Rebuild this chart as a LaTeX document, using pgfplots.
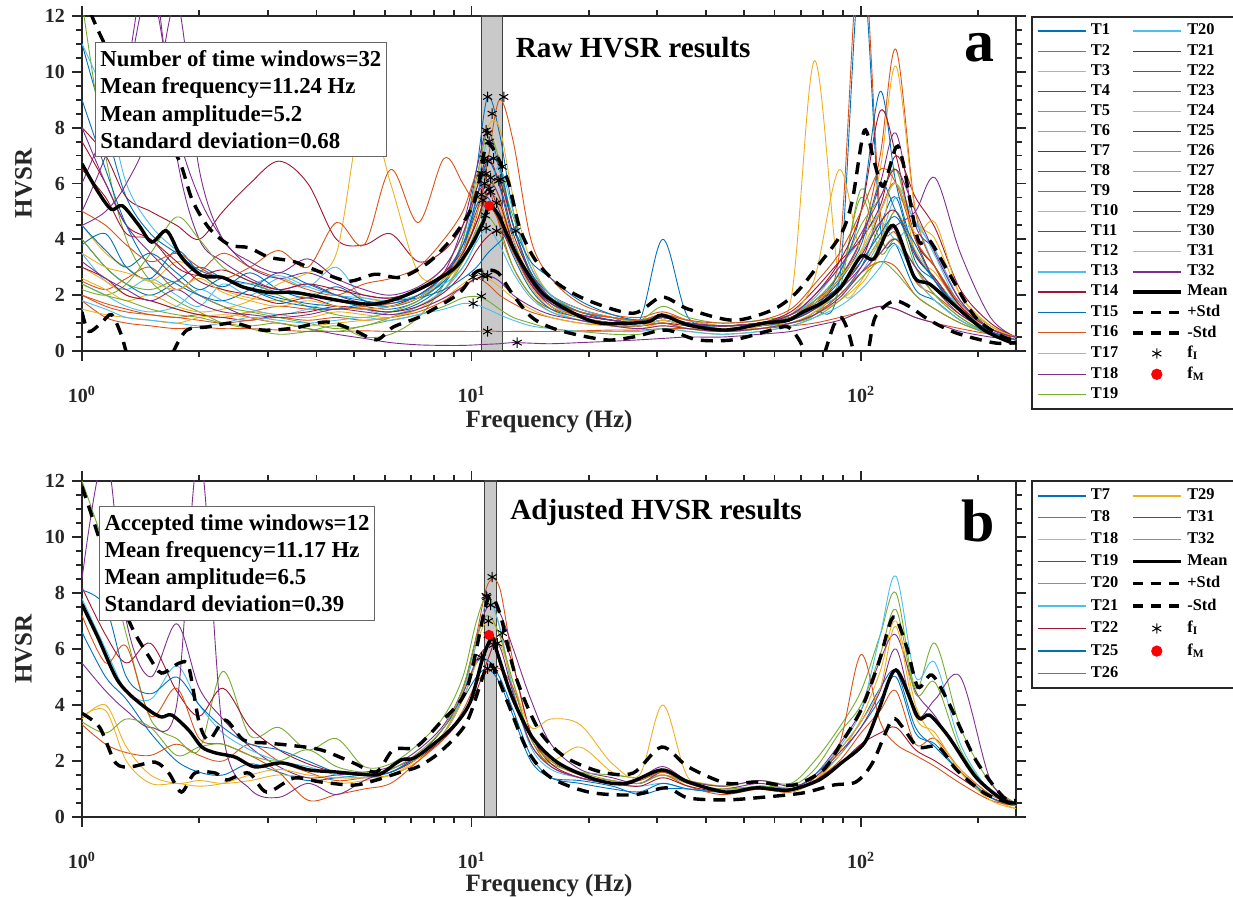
\documentclass[border=0pt]{standalone}
\usepackage{fontspec}
\setmainfont{Liberation Serif}
\usepackage{pgfplots}
\pgfplotsset{compat=1.18}
\definecolor{c1}{RGB}{0,114,189}
\definecolor{c2}{RGB}{217,83,25}
\definecolor{c3}{RGB}{237,177,32}
\definecolor{c4}{RGB}{126,47,142}
\definecolor{c5}{RGB}{119,172,48}
\definecolor{c6}{RGB}{77,190,238}
\definecolor{c7}{RGB}{162,20,47}
\definecolor{axc}{RGB}{38,38,38}
\tikzset{
  hvtrace/.style={smooth, tension=0.55, line width=0.45pt},
  hvmean/.style={smooth, tension=0.5, black, line width=1.7pt},
  hvstd/.style={smooth, tension=0.5, black, line width=1.7pt, dash pattern=on 6pt off 4pt},
}
\begin{document}
\begin{tikzpicture}
\useasboundingbox (0,0) rectangle (616.5pt,448.5pt);
%================ PANEL A =================
\begin{axis}[at={(41pt,273pt)}, anchor=south west,
    scale only axis, width=467pt, height=167.5pt,
    xmode=log, xmin=1, xmax=250, ymin=0, ymax=12,
    xtick={1,10,100},
    xticklabels={10\textsuperscript{0},10\textsuperscript{1},10\textsuperscript{2}},
    minor xtick={2,3,4,5,6,7,8,9,20,30,40,50,60,70,80,90,200},
    ytick={0,2,4,6,8,10,12}, yticklabels={0,2,4,6,8,10,12},
    minor y tick num=3,
    tick align=outside, major tick length=5pt, minor tick length=2.8pt,
    tick style={line width=0.9pt, axc},
    axis line style={line width=1pt, axc},
    tick label style={font=\fontsize{10}{12}\selectfont\bfseries, text=axc},
    xticklabel style={yshift=-9pt},
    label style={font=\fontsize{12.5}{15}\selectfont\bfseries, text=axc},
    xlabel={Frequency (Hz)}, ylabel={HVSR},
    ylabel style={at={(axis description cs:-0.0626,0.5)}, anchor=center},
    xlabel style={at={(axis description cs:0.5,-0.212)}, anchor=center},
    legend columns=2, legend cell align=left,
    legend image code/.code={\draw[mark repeat=2,mark phase=2,#1] plot coordinates {(0pt,0pt)(12pt,0pt)(24pt,0pt)};},
    legend style={at={(axis description cs:1.016,1)}, anchor=north west, draw=axc, line width=1pt,
      font=\fontsize{8.2}{9.5}\selectfont\bfseries, text=black,
      inner xsep=2.5pt, inner ysep=2pt, nodes={inner ysep=1.55pt, inner xsep=2.4pt},
      /tikz/every even column/.append style={column sep=4pt}},
  ]
\addplot[forget plot, fill=black!21, draw=black!75, line width=0.6pt] coordinates {(10.6,12)(12.0,12)} \closedcycle;
\addplot[forget plot,hvtrace,c1] coordinates {(1,11)(1.15,8)(1.3,5.5)(1.5,4.2)(1.75,3.5)(2,2.9)(2.3,2.6)(2.7,2.4)(3.2,2.1)(3.8,2)(4.5,1.8)(5.3,1.6)(6.2,1.5)(7.3,1.8)(8.5,2.6)(9.5,4)(10.3,6.5)(11,9.1)(11.8,7.8)(12.8,5)(14.2,3)(16,2)(19,1.4)(23,1.2)(27,1.1)(31,4)(36,1.2)(44,0.9)(55,1)(66,1.2)(76,1.5)(88,2)(100,3)(112,4.5)(123,5.5)(138,3.2)(155,2.5)(180,1.4)(215,0.7)(250,0.4)};
\addplot[forget plot,hvtrace,c2] coordinates {(1,2)(1.15,1.6)(1.3,1.4)(1.5,1.3)(1.75,1.2)(2,1.3)(2.3,1.2)(2.7,1.4)(3.2,1.6)(3.8,1.5)(4.5,1.5)(5.3,1.6)(6.2,1.7)(7.3,2)(8.5,2.7)(9.5,3.5)(10.3,4.8)(11,6.8)(11.8,9)(12.8,7.5)(14.2,4)(16,2.6)(19,1.7)(23,1.3)(27,1.2)(31,1.4)(36,1.1)(44,0.9)(55,1)(66,1.3)(76,1.8)(88,3.5)(100,15)(112,5)(123,4.2)(138,2.5)(155,2)(180,1.3)(215,0.7)(250,0.5)};
\addplot[forget plot,hvtrace,c3] coordinates {(1,4.5)(1.15,3.5)(1.3,3)(1.5,2.5)(1.75,3.2)(2,2.8)(2.3,2.2)(2.7,1.9)(3.2,1.8)(3.8,2)(4.5,2.2)(5.3,1.9)(6.2,1.8)(7.3,2.2)(8.5,3)(9.5,4.2)(10.3,6)(11,8)(11.8,8)(12.8,5.5)(14.2,3.2)(16,2)(19,1.5)(23,1.2)(27,1)(31,1.3)(36,1)(44,0.8)(55,0.9)(66,1)(76,1.3)(88,1.8)(100,2.5)(112,4)(123,6.5)(138,3.5)(155,2.8)(180,1.6)(215,0.8)(250,0.5)};
\addplot[forget plot,hvtrace,c4] coordinates {(1,6)(1.15,8)(1.3,10)(1.5,14)(1.75,7)(2,4)(2.3,3.2)(2.7,2.6)(3.2,2.2)(3.8,2.4)(4.5,2)(5.3,1.7)(6.2,1.6)(7.3,1.9)(8.5,2.8)(9.5,4.5)(10.3,6.5)(11,7.9)(11.8,6.5)(12.8,4.5)(14.2,2.8)(16,1.8)(19,1.3)(23,1.1)(27,1)(31,1.2)(36,1)(44,0.9)(55,1)(66,1.2)(76,1.6)(88,2.2)(100,3)(112,4)(123,4.5)(138,5)(155,6.2)(180,3.5)(215,1.2)(250,0.5)};
\addplot[forget plot,hvtrace,c5] coordinates {(1,12.5)(1.15,7)(1.3,4)(1.5,2.5)(1.75,1.8)(2,1.4)(2.3,1)(2.7,0.8)(3.2,0.6)(3.8,0.7)(4.5,0.9)(5.3,0.5)(6.2,0.6)(7.3,1.2)(8.5,2.4)(9.5,4)(10.3,6.2)(11,7.8)(11.8,6.8)(12.8,4.5)(14.2,2.7)(16,1.7)(19,1.2)(23,1)(27,0.9)(31,1.2)(36,0.9)(44,0.8)(55,0.9)(66,1)(76,1.3)(88,2.5)(100,5.5)(112,3.5)(123,4)(138,3)(155,2)(180,1.2)(215,0.6)(250,0.4)};
\addplot[forget plot,hvtrace,c6] coordinates {(1,3.5)(1.15,2.5)(1.3,2.2)(1.5,2.6)(1.75,2)(2,1.6)(2.3,2.4)(2.7,2)(3.2,2.6)(3.8,2.3)(4.5,3)(5.3,1.8)(6.2,1.6)(7.3,2)(8.5,2.6)(9.5,3.8)(10.3,5.8)(11,7.5)(11.8,6.5)(12.8,4)(14.2,2.4)(16,1.7)(19,1.2)(23,1)(27,0.9)(31,1.1)(36,0.9)(44,0.8)(55,0.9)(66,1.1)(76,1.5)(88,2)(100,2.8)(112,4)(123,5.5)(138,4.6)(155,3)(180,1.5)(215,0.7)(250,0.4)};
\addplot[forget plot,hvtrace,c7] coordinates {(1,8)(1.15,7)(1.3,5.5)(1.5,5)(1.75,4.5)(2,4)(2.3,5)(2.7,6)(3.2,6.8)(3.8,6)(4.5,4)(5.3,3.8)(6.2,4.2)(7.3,3.2)(8.5,3.6)(9.5,4.5)(10.3,5.8)(11,6.9)(11.8,6)(12.8,4.2)(14.2,2.8)(16,2)(19,1.5)(23,1.2)(27,1.1)(31,1.3)(36,1.1)(44,0.9)(55,1)(66,1.2)(76,1.7)(88,2.3)(100,3.2)(112,5)(123,6)(138,4)(155,2.5)(180,1.4)(215,0.7)(250,0.4)};
\addplot[forget plot,hvtrace,c1] coordinates {(1,4)(1.15,3)(1.3,2.4)(1.5,2)(1.75,2.5)(2,3)(2.3,2.6)(2.7,2.2)(3.2,1.9)(3.8,1.7)(4.5,1.6)(5.3,1.5)(6.2,1.4)(7.3,1.7)(8.5,2.4)(9.5,3.6)(10.3,5.5)(11,6.8)(11.8,5.9)(12.8,4)(14.2,2.5)(16,1.6)(19,1.2)(23,1)(27,0.9)(31,1.1)(36,0.9)(44,0.7)(55,0.8)(66,1)(76,1.4)(88,2.5)(100,14)(112,4.5)(123,3.8)(138,2.2)(155,1.8)(180,1.1)(215,0.6)(250,0.4)};
\addplot[forget plot,hvtrace,c2] coordinates {(1,2.5)(1.15,2.2)(1.3,2.6)(1.5,3)(1.75,2.2)(2,2.8)(2.3,3.5)(2.7,3)(3.2,2.6)(3.8,2.2)(4.5,2)(5.3,2.4)(6.2,2.6)(7.3,3)(8.5,4)(9.5,5)(10.3,6.3)(11,6)(11.8,4.5)(12.8,3)(14.2,2)(16,1.5)(19,1.3)(23,1.1)(27,1)(31,1.2)(36,1)(44,0.9)(55,1)(66,1.3)(76,1.8)(88,2.6)(100,4)(112,7)(123,10.8)(138,5)(155,3)(180,1.6)(215,0.8)(250,0.5)};
\addplot[forget plot,hvtrace,c3] coordinates {(1,3)(1.15,2.5)(1.3,2)(1.5,1.8)(1.75,1.5)(2,1.3)(2.3,1.2)(2.7,1.4)(3.2,1.3)(3.8,1.2)(4.5,1.4)(5.3,1.3)(6.2,1.2)(7.3,1.5)(8.5,2.2)(9.5,3.4)(10.3,5.2)(11,6.3)(11.8,5.4)(12.8,3.6)(14.2,2.3)(16,1.5)(19,1.1)(23,0.9)(27,0.8)(31,1)(36,0.8)(44,0.7)(55,0.9)(66,1.8)(76,10.4)(88,2.5)(100,2.4)(112,3.5)(123,4)(138,2.6)(155,1.8)(180,1.1)(215,0.6)(250,0.4)};
\addplot[forget plot,hvtrace,c4] coordinates {(1,5)(1.15,7)(1.3,9.5)(1.5,13)(1.75,8)(2,5.5)(2.3,4)(2.7,3)(3.2,2.6)(3.8,2.8)(4.5,2.4)(5.3,2)(6.2,1.9)(7.3,2.2)(8.5,2.8)(9.5,3.8)(10.3,5)(11,6.1)(11.8,5.5)(12.8,3.8)(14.2,2.5)(16,1.7)(19,1.3)(23,1.1)(27,1)(31,1.2)(36,1)(44,0.9)(55,1)(66,1.2)(76,1.7)(88,2.6)(100,4)(112,6)(123,7.8)(138,4.5)(155,3.6)(180,1.8)(215,0.8)(250,0.5)};
\addplot[forget plot,hvtrace,c5] coordinates {(1,2.2)(1.15,2)(1.3,2.4)(1.5,3.5)(1.75,4.8)(2,4)(2.3,3)(2.7,2.5)(3.2,2)(3.8,1.6)(4.5,1.3)(5.3,1.2)(6.2,1.4)(7.3,1.8)(8.5,2.5)(9.5,3.3)(10.3,4.4)(11,5.6)(11.8,6.1)(12.8,4.8)(14.2,3)(16,2)(19,1.4)(23,1.2)(27,1.1)(31,1.6)(36,1.2)(44,1)(55,1.1)(66,1.3)(76,1.8)(88,2.8)(100,4.5)(112,5.5)(123,6.5)(138,4)(155,3)(180,1.7)(215,0.9)(250,0.5)};
\addplot[forget plot,hvtrace,c6] coordinates {(1,11)(1.15,9)(1.3,6)(1.5,4.5)(1.75,3.6)(2,3)(2.3,2.6)(2.7,2.4)(3.2,2.7)(3.8,2.3)(4.5,2)(5.3,1.9)(6.2,1.8)(7.3,2)(8.5,2.4)(9.5,3)(10.3,4)(11,5.6)(11.8,6.6)(12.8,5)(14.2,3)(16,2)(19,1.5)(23,1.2)(27,1.1)(31,1.3)(36,1.1)(44,0.9)(55,1)(66,1.3)(76,1.9)(88,3)(100,4)(112,5)(123,6)(138,4.6)(155,3.6)(180,1.8)(215,0.8)(250,0.5)};
\addplot[forget plot,hvtrace,c7] coordinates {(1,7.5)(1.15,6)(1.3,4.5)(1.5,4)(1.75,3.2)(2,2.5)(2.3,2.2)(2.7,2)(3.2,1.7)(3.8,1.9)(4.5,1.6)(5.3,1.5)(6.2,1.6)(7.3,2)(8.5,2.7)(9.5,3.5)(10.3,4.6)(11,5.8)(11.8,6.1)(12.8,4.5)(14.2,2.8)(16,1.9)(19,1.4)(23,1.2)(27,1.1)(31,1.2)(36,1)(44,0.9)(55,1)(66,1.4)(76,2.2)(88,3.2)(100,4)(112,5.2)(123,7)(138,5.5)(155,4.4)(180,2.2)(215,1)(250,0.5)};
\addplot[forget plot,hvtrace,c1] coordinates {(1,3.8)(1.15,4.2)(1.3,3)(1.5,2.6)(1.75,3.6)(2,2.8)(2.3,2.3)(2.7,2.8)(3.2,2.2)(3.8,1.9)(4.5,2.3)(5.3,1.8)(6.2,1.6)(7.3,1.9)(8.5,2.5)(9.5,3.6)(10.3,5.2)(11,5.5)(11.8,4.6)(12.8,3.4)(14.2,2.2)(16,1.5)(19,1.2)(23,1)(27,0.9)(31,1.1)(36,0.9)(44,0.8)(55,0.9)(66,1.2)(76,1.7)(88,2.8)(100,5)(112,9.3)(123,6)(138,3.5)(155,2.6)(180,1.5)(215,0.7)(250,0.4)};
\addplot[forget plot,hvtrace,c2] coordinates {(1,1.8)(1.15,1.2)(1.3,1)(1.5,0.9)(1.75,0.8)(2,0.85)(2.3,0.8)(2.7,0.8)(3.2,0.75)(3.8,0.7)(4.5,0.7)(5.3,0.72)(6.2,0.7)(7.3,0.7)(8.5,0.7)(9.5,0.7)(10.3,0.7)(11,0.72)(11.8,0.7)(12.8,0.7)(14.2,0.7)(16,0.7)(19,0.72)(23,0.75)(27,0.75)(31,0.8)(36,0.8)(44,0.75)(55,0.8)(66,0.9)(76,1)(88,1.2)(100,1.4)(112,1.6)(123,1.5)(138,1.2)(155,1)(180,0.8)(215,0.6)(250,0.5)};
\addplot[forget plot,hvtrace,c3] coordinates {(1,2.6)(1.15,2.2)(1.3,1.8)(1.5,2)(1.75,1.6)(2,1.4)(2.3,1.5)(2.7,1.8)(3.2,2.4)(3.8,2.8)(4.5,3.5)(5.3,8.8)(6.2,6)(7.3,2.8)(8.5,2.6)(9.5,3.2)(10.3,4.2)(11,5)(11.8,5.3)(12.8,4)(14.2,2.6)(16,1.8)(19,1.4)(23,1.2)(27,1.1)(31,1.3)(36,1.1)(44,0.9)(55,1)(66,1.3)(76,2.6)(88,6.5)(100,3.5)(112,4)(123,5)(138,3.6)(155,2.6)(180,1.5)(215,0.8)(250,0.5)};
\addplot[forget plot,hvtrace,c4] coordinates {(1,8)(1.15,6)(1.3,4.5)(1.5,3.5)(1.75,2.6)(2,2)(2.3,1.6)(2.7,1.2)(3.2,1)(3.8,0.8)(4.5,0.6)(5.3,0.45)(6.2,0.3)(7.3,0.22)(8.5,0.2)(9.5,0.2)(10.3,0.22)(11,0.24)(11.8,0.26)(12.8,0.3)(14.2,0.28)(16,0.26)(19,0.3)(23,0.35)(27,0.4)(31,0.45)(36,0.5)(44,0.5)(55,0.6)(66,0.7)(76,0.9)(88,1.1)(100,1.4)(112,1.6)(123,1.5)(138,1.2)(155,1)(180,0.7)(215,0.5)(250,0.4)};
\addplot[forget plot,hvtrace,c5] coordinates {(1,4)(1.15,3)(1.3,2.4)(1.5,2.2)(1.75,2.5)(2,2)(2.3,1.6)(2.7,1.4)(3.2,1.2)(3.8,1)(4.5,0.8)(5.3,0.9)(6.2,1.2)(7.3,1.6)(8.5,2.2)(9.5,3.2)(10.3,4.3)(11,4.8)(11.8,4.2)(12.8,3)(14.2,2)(16,1.4)(19,1.1)(23,0.9)(27,0.9)(31,1)(36,0.8)(44,0.7)(55,0.8)(66,1)(76,1.4)(88,2.2)(100,5.8)(112,4)(123,5)(138,3)(155,2)(180,1.2)(215,0.6)(250,0.4)};
\addplot[forget plot,hvtrace,c6] coordinates {(1,2.4)(1.15,2)(1.3,1.6)(1.5,1.4)(1.75,1.6)(2,2.2)(2.3,1.8)(2.7,1.5)(3.2,1.3)(3.8,1.5)(4.5,1.8)(5.3,1.5)(6.2,1.3)(7.3,1.6)(8.5,2.2)(9.5,3)(10.3,3.9)(11,4.4)(11.8,3.8)(12.8,2.8)(14.2,1.9)(16,1.4)(19,1.1)(23,0.9)(27,0.9)(31,1.1)(36,0.9)(44,0.8)(55,0.9)(66,1.1)(76,1.5)(88,2.3)(100,3.5)(112,4.6)(123,4)(138,4.6)(155,3.4)(180,1.6)(215,0.7)(250,0.4)};
\addplot[forget plot,hvtrace,c7] coordinates {(1,3)(1.15,2.6)(1.3,2)(1.5,1.8)(1.75,1.5)(2,1.3)(2.3,1.2)(2.7,1.1)(3.2,1.3)(3.8,1.4)(4.5,1.6)(5.3,1.5)(6.2,1.4)(7.3,1.6)(8.5,2.1)(9.5,2.8)(10.3,3.6)(11,4.1)(11.8,4.3)(12.8,3.6)(14.2,2.4)(16,1.6)(19,1.2)(23,1)(27,0.9)(31,1)(36,0.9)(44,0.8)(55,0.9)(66,1.1)(76,1.5)(88,2.2)(100,3.4)(112,4.6)(123,5)(138,3.4)(155,2.6)(180,1.4)(215,0.7)(250,0.4)};
\addplot[forget plot,hvtrace,c1] coordinates {(1,4.5)(1.15,3.6)(1.3,3)(1.5,3.5)(1.75,2.8)(2,2.2)(2.3,2.6)(2.7,2.2)(3.2,1.8)(3.8,1.6)(4.5,1.5)(5.3,1.7)(6.2,1.8)(7.3,1.9)(8.5,2.2)(9.5,2.6)(10.3,3)(11,3.5)(11.8,3.9)(12.8,4.3)(14.2,3.2)(16,2.6)(19,1.8)(23,1.3)(27,1.1)(31,1.2)(36,1)(44,0.9)(55,1)(66,1.2)(76,1.6)(88,2.3)(100,3.2)(112,4.2)(123,4.8)(138,3.5)(155,2.5)(180,1.5)(215,0.7)(250,0.4)};
\addplot[forget plot,hvtrace,c2] coordinates {(1,2)(1.15,1.7)(1.3,1.5)(1.5,1.3)(1.75,1.2)(2,1.1)(2.3,1)(2.7,1.1)(3.2,1.2)(3.8,1.1)(4.5,1.2)(5.3,1.1)(6.2,1.2)(7.3,1.4)(8.5,1.8)(9.5,2.3)(10.3,2.6)(11,2.4)(11.8,2)(12.8,1.7)(14.2,1.4)(16,1.2)(19,1)(23,0.9)(27,0.9)(31,1)(36,0.8)(44,0.7)(55,0.8)(66,1)(76,1.3)(88,2)(100,2.8)(112,3.2)(123,3)(138,2)(155,1.5)(180,1)(215,0.6)(250,0.4)};
\addplot[forget plot,hvtrace,c3] coordinates {(1,1.5)(1.15,1.3)(1.3,1.2)(1.5,1.1)(1.75,1)(2,1.2)(2.3,1.3)(2.7,1.2)(3.2,1)(3.8,0.9)(4.5,1)(5.3,1.1)(6.2,1.2)(7.3,1.5)(8.5,1.9)(9.5,2.4)(10.3,2.7)(11,2.6)(11.8,2.3)(12.8,1.9)(14.2,1.5)(16,1.2)(19,1)(23,0.9)(27,0.8)(31,0.9)(36,0.8)(44,0.7)(55,0.8)(66,1)(76,1.4)(88,2.2)(100,3.5)(112,6.5)(123,10.2)(138,5)(155,4)(180,2)(215,0.9)(250,0.5)};
\addplot[forget plot,hvtrace,c4] coordinates {(1,3.2)(1.15,2.6)(1.3,2.2)(1.5,1.8)(1.75,2.2)(2,1.7)(2.3,1.4)(2.7,1.3)(3.2,1.2)(3.8,1.3)(4.5,1.5)(5.3,1.4)(6.2,1.3)(7.3,1.5)(8.5,1.9)(9.5,2.3)(10.3,2.6)(11,2.7)(11.8,2.5)(12.8,2)(14.2,1.6)(16,1.3)(19,1.1)(23,0.9)(27,0.8)(31,0.9)(36,0.8)(44,0.7)(55,0.8)(66,1)(76,1.3)(88,1.9)(100,2.8)(112,3.5)(123,4)(138,3)(155,2.2)(180,1.3)(215,0.7)(250,0.4)};
\addplot[forget plot,hvtrace,c5] coordinates {(1,2.4)(1.15,2)(1.3,1.8)(1.5,1.5)(1.75,1.3)(2,1.2)(2.3,1)(2.7,0.9)(3.2,1)(3.8,0.8)(4.5,0.7)(5.3,0.9)(6.2,1.1)(7.3,1.3)(8.5,1.6)(9.5,1.9)(10.3,1.95)(11,1.8)(11.8,1.5)(12.8,1.2)(14.2,1)(16,0.8)(19,0.7)(23,0.6)(27,0.6)(31,0.8)(36,0.7)(44,0.6)(55,0.7)(66,0.9)(76,1.2)(88,1.8)(100,2.6)(112,3.2)(123,2.8)(138,2)(155,1.5)(180,1)(215,0.6)(250,0.4)};
\addplot[forget plot,hvtrace,c6] coordinates {(1,1.8)(1.15,1.5)(1.3,1.2)(1.5,1.1)(1.75,1)(2,0.9)(2.3,1)(2.7,1.2)(3.2,1.1)(3.8,1)(4.5,1.1)(5.3,1.2)(6.2,1.1)(7.3,1.3)(8.5,1.5)(9.5,1.7)(10.3,1.65)(11,1.5)(11.8,1.3)(12.8,1.1)(14.2,0.9)(16,0.8)(19,0.7)(23,0.7)(27,0.7)(31,0.8)(36,0.7)(44,0.6)(55,0.7)(66,0.9)(76,1.2)(88,1.6)(100,2.2)(112,3)(123,3.8)(138,2.6)(155,1.8)(180,1.1)(215,0.6)(250,0.4)};
\addplot[forget plot,hvtrace,c7] coordinates {(1,6.5)(1.15,5.5)(1.3,4.2)(1.5,4)(1.75,3)(2,2.7)(2.3,2.9)(2.7,2.5)(3.2,2.2)(3.8,2.4)(4.5,2.2)(5.3,2)(6.2,1.9)(7.3,2.2)(8.5,2.8)(9.5,3.6)(10.3,4.6)(11,5.6)(11.8,5.3)(12.8,3.8)(14.2,2.5)(16,1.8)(19,1.3)(23,1.1)(27,1)(31,1.2)(36,1)(44,0.9)(55,1)(66,1.3)(76,2)(88,3.2)(100,5)(112,8.6)(123,7)(138,4)(155,3)(180,1.6)(215,0.8)(250,0.5)};
\addplot[forget plot,hvtrace,c1] coordinates {(1,9)(1.15,6.5)(1.3,4.5)(1.5,3)(1.75,2.4)(2,2)(2.3,1.8)(2.7,2.2)(3.2,2.8)(3.8,2.4)(4.5,2)(5.3,1.8)(6.2,1.7)(7.3,2)(8.5,2.7)(9.5,3.8)(10.3,5.4)(11,6.8)(11.8,6.6)(12.8,4.5)(14.2,2.8)(16,1.9)(19,1.4)(23,1.1)(27,1)(31,1.2)(36,1)(44,0.8)(55,0.9)(66,1.1)(76,1.6)(88,2.5)(100,3.8)(112,6)(123,5)(138,3.8)(155,2.5)(180,1.4)(215,0.7)(250,0.4)};
\addplot[forget plot,hvtrace,c2] coordinates {(1,5)(1.15,4.5)(1.3,3.8)(1.5,3.2)(1.75,3.5)(2,3)(2.3,2.6)(2.7,3)(3.2,3.6)(3.8,3)(4.5,4.6)(5.3,3.8)(6.2,6.5)(7.3,4.6)(8.5,6.9)(9.5,6)(10.3,5.2)(11,5.3)(11.8,4.6)(12.8,3.5)(14.2,2.4)(16,1.8)(19,1.4)(23,1.2)(27,1.1)(31,1.3)(36,1.1)(44,1)(55,1.1)(66,1.5)(76,2.4)(88,3.5)(100,5)(112,6.5)(123,6)(138,4)(155,3)(180,1.7)(215,0.8)(250,0.5)};
\addplot[forget plot,hvtrace,c3] coordinates {(1,3.5)(1.15,3)(1.3,2.8)(1.5,2.5)(1.75,2.2)(2,2.6)(2.3,2.1)(2.7,1.8)(3.2,1.6)(3.8,1.8)(4.5,1.6)(5.3,1.5)(6.2,1.6)(7.3,1.9)(8.5,2.6)(9.5,3.6)(10.3,4.9)(11,5.8)(11.8,5.2)(12.8,3.6)(14.2,2.3)(16,1.6)(19,1.2)(23,1)(27,0.9)(31,1.1)(36,0.9)(44,0.8)(55,0.9)(66,1.2)(76,1.7)(88,2.6)(100,3.6)(112,5)(123,6)(138,4.2)(155,4.6)(180,2)(215,0.9)(250,0.5)};
\addplot[forget plot,hvtrace,c4] coordinates {(1,4.5)(1.15,5)(1.3,6)(1.5,8)(1.75,12.5)(2,6.5)(2.3,4)(2.7,3.2)(3.2,2.8)(3.8,3.3)(4.5,2.6)(5.3,2.2)(6.2,2)(7.3,2.3)(8.5,3)(9.5,4.2)(10.3,5.6)(11,5.9)(11.8,5)(12.8,3.6)(14.2,2.4)(16,1.7)(19,1.3)(23,1.1)(27,1)(31,1.2)(36,1)(44,0.9)(55,1)(66,1.3)(76,2)(88,3)(100,4.2)(112,5.5)(123,6.5)(138,5)(155,3.5)(180,1.8)(215,0.8)(250,0.5)};
\addplot[forget plot,hvmean] coordinates {(1,6.7)(1.1,5.7)(1.19,5.07)(1.27,5.2)(1.4,4.5)(1.51,3.9)(1.65,4.3)(1.8,3.36)(2.03,2.7)(2.29,2.64)(2.58,2.3)(3.0,2.1)(3.5,2.1)(4.1,1.93)(4.85,1.75)(5.66,1.68)(6.6,1.93)(7.8,2.4)(9.1,3.0)(10.0,3.8)(10.7,4.6)(11.1,5.2)(11.7,4.9)(12.4,4.1)(13.3,3.25)(15.2,2.07)(18.3,1.35)(21.5,1.0)(28.2,1.04)(30.8,1.29)(36,0.93)(45,0.75)(56.5,1.0)(65,1.1)(71,1.4)(80,1.75)(89,2.3)(100,3.4)(108,3.3)(121,4.5)(137,2.65)(150,2.4)(176,1.57)(207,0.75)(240,0.33)(250,0.3)};
\addplot[forget plot,hvstd] coordinates {(1,13.5)(1.06,12)(1.3,9.5)(1.6,7.8)(1.78,6.8)(1.92,5.4)(2.12,4.4)(2.39,3.8)(2.68,3.7)(3.02,3.36)(3.5,3.2)(4.14,2.8)(4.85,2.5)(5.66,2.75)(6.6,2.64)(7.8,3.2)(9.1,4.2)(10.2,5.4)(10.85,7.3)(11.3,7.3)(12.4,6.1)(13.3,4.4)(14.6,3.25)(16.7,2.4)(20,1.8)(26,1.35)(30.8,1.93)(36,1.5)(47,1.1)(59,1.46)(68,2.07)(78,3.1)(89,4.2)(95,5.4)(102,7.9)(108,6.8)(114,5.9)(123,7.3)(128,6.8)(140,4.0)(150,3.96)(168,2.8)(197,1.2)(232,0.5)(250,0.4)};
\addplot[forget plot,hvstd] coordinates {(1,1.4)(1.04,0.7)(1.12,1.0)(1.19,1.3)(1.26,0.6)(1.32,-0.3)(1.45,-1.2)(1.6,-1.2)(1.72,0)(1.86,0.75)(2.1,0.86)(2.45,1.0)(2.9,0.75)(3.5,0.82)(4.25,1.04)(4.98,0.75)(5.7,0.4)(6.3,0.86)(7.25,1.18)(7.9,1.46)(9.3,2.07)(10.2,2.8)(10.85,2.9)(11.7,2.8)(12.7,2.07)(14.3,1.2)(16.7,0.75)(22,0.4)(26,0.5)(31.6,0.75)(38,0.4)(47,0.4)(59,0.75)(65,0.86)(70,0.3)(74,-0.6)(79,-0.4)(85,0.9)(89,1.2)(93,0.64)(98,-0.5)(103,-0.4)(108,1.1)(115,1.6)(123,1.8)(134,1.57)(150,1.1)(176,0.64)(220,0.29)(250,0.3)};
\addplot[forget plot, only marks, mark=asterisk, black, mark size=2.6pt, mark options={line width=0.5pt}] coordinates {(11.0,9.1)(12.1,9.1)(11.3,8.5)(10.9,7.9)(11.0,7.8)(11.1,7.5)(10.8,6.9)(11.0,6.8)(10.6,6.35)(10.9,6.35)(11.2,6.2)(11.75,6.1)(12.0,6.6)(11.9,6.15)(10.6,5.6)(11.0,0.7)(11.6,5.3)(13.1,0.3)(10.85,4.86)(10.9,4.4)(11.6,4.3)(13.0,4.3)(10.1,2.64)(10.7,2.7)(11.0,2.7)(10.6,1.96)(10.1,1.7)(11.2,5.7)(11.4,6.9)(10.7,5.4)(11.1,5.8)(10.8,6.0)};
\addplot[forget plot, only marks, mark=*, red, mark size=2.3pt] coordinates {(11.1,5.2)};
\addlegendimage{c1,line width=0.6pt}\addlegendentry{T1}
\addlegendimage{c6,line width=0.6pt}\addlegendentry{T20}
\addlegendimage{c2,line width=0.6pt}\addlegendentry{T2}
\addlegendimage{c7,line width=0.6pt}\addlegendentry{T21}
\addlegendimage{c3,line width=0.6pt}\addlegendentry{T3}
\addlegendimage{c1,line width=0.6pt}\addlegendentry{T22}
\addlegendimage{c4,line width=0.6pt}\addlegendentry{T4}
\addlegendimage{c2,line width=0.6pt}\addlegendentry{T23}
\addlegendimage{c5,line width=0.6pt}\addlegendentry{T5}
\addlegendimage{c3,line width=0.6pt}\addlegendentry{T24}
\addlegendimage{c6,line width=0.6pt}\addlegendentry{T6}
\addlegendimage{c4,line width=0.6pt}\addlegendentry{T25}
\addlegendimage{c7,line width=0.6pt}\addlegendentry{T7}
\addlegendimage{c5,line width=0.6pt}\addlegendentry{T26}
\addlegendimage{c1,line width=0.6pt}\addlegendentry{T8}
\addlegendimage{c6,line width=0.6pt}\addlegendentry{T27}
\addlegendimage{c2,line width=0.6pt}\addlegendentry{T9}
\addlegendimage{c7,line width=0.6pt}\addlegendentry{T28}
\addlegendimage{c3,line width=0.6pt}\addlegendentry{T10}
\addlegendimage{c1,line width=0.6pt}\addlegendentry{T29}
\addlegendimage{c4,line width=0.6pt}\addlegendentry{T11}
\addlegendimage{c2,line width=0.6pt}\addlegendentry{T30}
\addlegendimage{c5,line width=0.6pt}\addlegendentry{T12}
\addlegendimage{c3,line width=0.6pt}\addlegendentry{T31}
\addlegendimage{c6,line width=0.6pt}\addlegendentry{T13}
\addlegendimage{c4,line width=0.6pt}\addlegendentry{T32}
\addlegendimage{c7,line width=0.6pt}\addlegendentry{T14}
\addlegendimage{black,line width=1.7pt}\addlegendentry{Mean}
\addlegendimage{c1,line width=0.6pt}\addlegendentry{T15}
\addlegendimage{black,line width=1.7pt,dash pattern=on 5pt off 4pt}\addlegendentry{+Std}
\addlegendimage{c2,line width=0.6pt}\addlegendentry{T16}
\addlegendimage{black,line width=1.7pt,dash pattern=on 5pt off 4pt}\addlegendentry{-Std}
\addlegendimage{c3,line width=0.6pt}\addlegendentry{T17}
\addlegendimage{only marks,mark=asterisk,black,mark size=2.6pt,mark options={line width=0.5pt}}\addlegendentry{f\textsubscript{I}}
\addlegendimage{c4,line width=0.6pt}\addlegendentry{T18}
\addlegendimage{only marks,mark=*,red,mark size=2.3pt}\addlegendentry{f\textsubscript{M}}
\addlegendimage{c5,line width=0.6pt}\addlegendentry{T19}
\node[draw=black!60, line width=0.5pt, fill=white, anchor=north west, align=left,
  font=\fontsize{11.4}{13.6}\selectfont\bfseries, inner xsep=2.5pt, inner ysep=4pt]
  at (rel axis cs:0.0139,0.922) {Number of time windows=32\\Mean frequency=11.24 Hz\\Mean amplitude=5.2\\Standard deviation=0.68};
\node[anchor=base west, font=\fontsize{14.6}{17}\selectfont\bfseries] at (rel axis cs:0.457,0.875) {Raw HVSR results};
\node[anchor=base east, font=\fontsize{30}{34}\selectfont\bfseries] at (rel axis cs:0.985,0.863) {a};
\end{axis}
%================ PANEL B =================
\begin{axis}[at={(41pt,40pt)}, anchor=south west,
    scale only axis, width=467pt, height=168pt,
    xmode=log, xmin=1, xmax=250, ymin=0, ymax=12,
    xtick={1,10,100},
    xticklabels={10\textsuperscript{0},10\textsuperscript{1},10\textsuperscript{2}},
    minor xtick={2,3,4,5,6,7,8,9,20,30,40,50,60,70,80,90,200},
    ytick={0,2,4,6,8,10,12}, yticklabels={0,2,4,6,8,10,12},
    minor y tick num=3,
    tick align=outside, major tick length=5pt, minor tick length=2.8pt,
    tick style={line width=0.9pt, axc},
    axis line style={line width=1pt, axc},
    tick label style={font=\fontsize{10}{12}\selectfont\bfseries, text=axc},
    xticklabel style={yshift=-9pt},
    label style={font=\fontsize{12.5}{15}\selectfont\bfseries, text=axc},
    xlabel={Frequency (Hz)}, ylabel={HVSR},
    ylabel style={at={(axis description cs:-0.0626,0.5)}, anchor=center},
    xlabel style={at={(axis description cs:0.5,-0.205)}, anchor=center},
    legend columns=2, legend cell align=left,
    legend image code/.code={\draw[mark repeat=2,mark phase=2,#1] plot coordinates {(0pt,0pt)(12pt,0pt)(24pt,0pt)};},
    legend style={at={(axis description cs:1.016,1.003)}, anchor=north west, draw=axc, line width=1pt,
      font=\fontsize{8.2}{9.5}\selectfont\bfseries, text=black,
      inner xsep=2.5pt, inner ysep=2pt, nodes={inner ysep=2.0pt, inner xsep=2.4pt},
      /tikz/every even column/.append style={column sep=4pt}},
  ]
\addplot[forget plot, fill=black!21, draw=black!75, line width=0.6pt] coordinates {(10.8,12)(11.6,12)} \closedcycle;
\addplot[forget plot,hvtrace,c1] coordinates {(1,6.6)(1.15,5)(1.3,4.2)(1.5,3)(1.75,2)(2,1.6)(2.3,1.5)(2.7,1.9)(3.2,1.6)(3.8,1.3)(4.5,1.4)(5.3,1.5)(6.2,1.6)(7.3,2.2)(8.5,3.2)(9.5,4.2)(10.3,5)(11,5.3)(11.8,4.8)(12.8,3.6)(14.2,2)(16,1.4)(19,1.3)(23,1.1)(27,0.8)(31,1)(36,1)(44,0.9)(55,1.1)(66,0.9)(76,1.3)(88,2.2)(100,3.2)(112,4.2)(123,5)(138,3)(155,2.6)(180,1.6)(215,0.7)(250,0.4)};
\addplot[forget plot,hvtrace,c2] coordinates {(1,3.3)(1.15,2.6)(1.3,2.3)(1.5,2.2)(1.75,2.6)(2,2.2)(2.3,2)(2.7,2.6)(3.2,2)(3.8,1.6)(4.5,1.3)(5.3,1.4)(6.2,1.5)(7.3,2)(8.5,3)(9.5,4.5)(10.3,6.5)(11,8.3)(11.8,8.2)(12.8,5.5)(14.2,3)(16,2)(19,1.5)(23,1.3)(27,1.2)(31,1.5)(36,1.1)(44,0.8)(55,1)(66,0.9)(76,1.3)(88,2)(100,3)(112,3.8)(123,4.5)(138,2.6)(155,2.8)(180,1.7)(215,0.8)(250,0.4)};
\addplot[forget plot,hvtrace,c3] coordinates {(1,3.5)(1.15,4)(1.3,2.5)(1.5,1.5)(1.75,1.2)(2,1.3)(2.3,1.2)(2.7,1.3)(3.2,1.5)(3.8,1.4)(4.5,1.2)(5.3,1.3)(6.2,1.5)(7.3,2)(8.5,3)(9.5,4.5)(10.3,6.2)(11,7)(11.8,6.5)(12.8,4.5)(14.2,2.6)(16,2)(19,2.5)(23,1.6)(27,1.4)(31,1.5)(36,1.3)(44,1.1)(55,1)(66,0.9)(76,1.3)(88,2.2)(100,3.5)(112,5.2)(123,7)(138,4)(155,2.8)(180,1.7)(215,0.7)(250,0.3)};
\addplot[forget plot,hvtrace,c4] coordinates {(1,8.5)(1.15,13)(1.3,7)(1.5,5)(1.75,6.9)(2,4.6)(2.3,3.5)(2.7,2.5)(3.2,1.8)(3.8,1.4)(4.5,1.5)(5.3,1.6)(6.2,1.8)(7.3,2.4)(8.5,3.3)(9.5,4.6)(10.3,6.4)(11,7.5)(11.8,7.3)(12.8,6)(14.2,4.2)(16,2.6)(19,1.7)(23,1.4)(27,1.2)(31,1.6)(36,1.2)(44,1)(55,1.2)(66,1)(76,1.5)(88,2.6)(100,3.8)(112,5.6)(123,6.5)(138,4.5)(155,3.6)(180,2.2)(215,0.9)(250,0.5)};
\addplot[forget plot,hvtrace,c5] coordinates {(1,12)(1.15,9.5)(1.3,6.5)(1.5,3.5)(1.75,2.8)(2,2.4)(2.3,5.2)(2.7,2.9)(3.2,3.2)(3.8,2.4)(4.5,2.8)(5.3,1.8)(6.2,1.9)(7.3,2.6)(8.5,3.6)(9.5,5)(10.3,7)(11,7.9)(11.8,6.8)(12.8,4.5)(14.2,2.6)(16,1.9)(19,1.6)(23,1.5)(27,1.4)(31,1.6)(36,1.3)(44,1.1)(55,1.3)(66,1.2)(76,2)(88,3.2)(100,4.5)(112,6.5)(123,8)(138,4.6)(155,6.2)(180,3.2)(215,1.2)(250,0.5)};
\addplot[forget plot,hvtrace,c6] coordinates {(1,7.8)(1.15,6)(1.3,4.5)(1.5,4.2)(1.75,5.4)(2,4)(2.3,3)(2.7,2.4)(3.2,2)(3.8,1.8)(4.5,1.5)(5.3,1.4)(6.2,1.6)(7.3,2.2)(8.5,3)(9.5,4.4)(10.3,6.2)(11,7.8)(11.8,6.8)(12.8,4.5)(14.2,2.5)(16,1.7)(19,1.4)(23,1.2)(27,1.1)(31,1.2)(36,1)(44,0.9)(55,1.1)(66,1)(76,1.5)(88,2.5)(100,3.8)(112,6.5)(123,8.6)(138,5)(155,5.5)(180,2.6)(215,0.9)(250,0.4)};
\addplot[forget plot,hvtrace,c7] coordinates {(1,8.2)(1.15,6.5)(1.3,5.5)(1.5,6.2)(1.75,4.5)(2,3.6)(2.3,4.6)(2.7,3.2)(3.2,2.4)(3.8,1.9)(4.5,1.6)(5.3,1.5)(6.2,1.6)(7.3,2.1)(8.5,2.8)(9.5,3.6)(10.3,4.5)(11,5.6)(11.8,6.5)(12.8,5.4)(14.2,3)(16,1.9)(19,1.4)(23,1.2)(27,1.1)(31,1.4)(36,1.1)(44,0.9)(55,1)(66,0.9)(76,1.3)(88,1.9)(100,2.6)(112,3)(123,3.2)(138,2.4)(155,2)(180,1.4)(215,0.7)(250,0.4)};
\addplot[forget plot,hvtrace,c1] coordinates {(1,8.1)(1.15,7.5)(1.3,5)(1.5,4.4)(1.75,5)(2,4)(2.3,3.2)(2.7,2.6)(3.2,2.4)(3.8,2)(4.5,1.6)(5.3,1.5)(6.2,1.6)(7.3,2.2)(8.5,3)(9.5,4.2)(10.3,5.5)(11,5.6)(11.8,5)(12.8,3.8)(14.2,2.2)(16,1.4)(19,1.2)(23,1)(27,0.9)(31,1.2)(36,1)(44,0.9)(55,1.1)(66,1)(76,1.5)(88,2.4)(100,3.4)(112,4.6)(123,5.2)(138,3.2)(155,2.5)(180,1.6)(215,0.7)(250,0.4)};
\addplot[forget plot,hvtrace,c2] coordinates {(1,7.2)(1.15,5.5)(1.3,6.1)(1.5,3.6)(1.75,4.6)(2,2.8)(2.3,2.6)(2.7,2.2)(3.2,1.6)(3.8,0.6)(4.5,0.8)(5.3,1)(6.2,1.2)(7.3,2)(8.5,2.8)(9.5,3.8)(10.3,4.8)(11,5.2)(11.8,5.3)(12.8,4.6)(14.2,2.8)(16,1.8)(19,1.4)(23,1.2)(27,1.3)(31,1.6)(36,1.2)(44,0.9)(55,1)(66,0.9)(76,1.4)(88,2.6)(100,5.8)(112,3.4)(123,2.6)(138,2.2)(155,1.8)(180,1.2)(215,0.6)(250,0.4)};
\addplot[forget plot,hvtrace,c3] coordinates {(1,3.6)(1.15,3.8)(1.3,2)(1.5,1.2)(1.75,1.2)(2,1.1)(2.3,1.2)(2.7,1.5)(3.2,1.7)(3.8,1.5)(4.5,1.4)(5.3,1.4)(6.2,1.5)(7.3,2.1)(8.5,3)(9.5,4.2)(10.3,5.5)(11,6.1)(11.8,6.2)(12.8,4.8)(14.2,3.2)(16,3.5)(19,3.3)(23,1.9)(27,1.5)(31,4)(36,1.4)(44,1)(55,1)(66,0.9)(76,1.3)(88,2.4)(100,3.4)(112,4.6)(123,6.8)(138,3.6)(155,3)(180,1.6)(215,0.6)(250,0.3)};
\addplot[forget plot,hvtrace,c4] coordinates {(1,5.5)(1.15,4.5)(1.3,3.8)(1.5,3.2)(1.75,4)(2,13)(2.3,3)(2.7,1)(3.2,0.7)(3.8,1.2)(4.5,0.8)(5.3,1.3)(6.2,1.7)(7.3,2.2)(8.5,3.2)(9.5,4.4)(10.3,5.6)(11,6.1)(11.8,6.1)(12.8,4.4)(14.2,2.6)(16,1.8)(19,1.4)(23,1.2)(27,1.4)(31,1.8)(36,1.3)(44,1.1)(55,1.3)(66,1.1)(76,1.4)(88,2.3)(100,3.2)(112,4.5)(123,6)(138,3.6)(155,4.2)(180,5)(215,1.3)(250,0.5)};
\addplot[forget plot,hvtrace,c5] coordinates {(1,3.4)(1.15,3)(1.3,3.5)(1.5,3.2)(1.75,2.2)(2,2.5)(2.3,2.6)(2.7,2.2)(3.2,2)(3.8,2.4)(4.5,1.8)(5.3,1.6)(6.2,1.7)(7.3,2.3)(8.5,3.2)(9.5,4.6)(10.3,6.4)(11,7.2)(11.8,6.5)(12.8,4.8)(14.2,2.8)(16,2)(19,1.6)(23,1.3)(27,1.2)(31,1.5)(36,1.2)(44,1)(55,1.1)(66,1.1)(76,1.7)(88,3)(100,4)(112,5.8)(123,7.4)(138,4.4)(155,4.8)(180,2.4)(215,0.9)(250,0.4)};
\addplot[forget plot,hvmean] coordinates {(1,7.6)(1.1,6.4)(1.22,5.0)(1.32,4.4)(1.49,3.8)(1.6,3.57)(1.7,3.64)(1.88,3.1)(2.03,2.5)(2.2,2.29)(2.47,2.14)(2.78,1.79)(3.26,1.93)(3.83,1.68)(4.47,1.61)(5.5,1.5)(5.9,1.57)(6.6,2.04)(7.2,2.14)(8.8,3.1)(9.9,4.07)(10.7,5.7)(11.3,6.4)(11.65,5.86)(12.7,4.3)(14.3,2.86)(16.7,1.93)(21,1.32)(25,1.2)(30.8,1.68)(36,1.25)(45,0.89)(54,1.04)(65,0.96)(78,1.32)(89,1.93)(102,2.64)(111,3.82)(123,5.25)(140,3.57)(150,3.64)(168,2.86)(197,1.43)(232,0.6)(250,0.5)};
\addplot[forget plot,hvstd] coordinates {(1,11.8)(1.04,11.1)(1.2,8.5)(1.34,6.8)(1.49,5.7)(1.6,5.14)(1.78,5.5)(1.88,5.36)(2.0,3.36)(2.12,2.75)(2.33,3.46)(2.6,2.75)(2.98,2.64)(3.37,2.57)(4.1,2.4)(4.98,1.93)(5.7,1.61)(6.3,2.4)(7.2,2.5)(8.3,3.36)(9.7,4.54)(10.85,7.5)(11.3,7.86)(11.9,7.14)(13.0,5.0)(14.9,3.1)(17.4,2.14)(21.5,1.61)(26,1.57)(30.8,2.5)(36,1.79)(45,1.21)(54,1.25)(67,1.14)(80,1.68)(89,2.64)(100,3.82)(111,5.5)(121,7.14)(131,6.07)(140,4.64)(152,5.07)(168,4.07)(197,2.04)(232,0.71)(250,0.6)};
\addplot[forget plot,hvstd] coordinates {(1,3.7)(1.11,3.2)(1.22,1.93)(1.34,1.8)(1.54,1.96)(1.67,1.57)(1.8,0.89)(1.95,1.57)(2.2,1.57)(2.35,1.32)(2.68,1.57)(2.98,0.89)(3.5,1.39)(4.1,1.25)(4.98,1.14)(5.7,1.32)(6.6,1.61)(7.3,1.8)(8.3,2.32)(9.7,3.36)(10.85,5.25)(11.35,5.36)(12.4,4.07)(13.9,2.4)(15.9,1.43)(20,0.89)(26,0.79)(31.6,1.04)(36,0.68)(45,0.61)(56.5,0.71)(71,0.86)(85,1.14)(97,1.25)(107,1.93)(120,3.46)(128,3.2)(140,2.5)(158,2.5)(176,1.68)(207,0.86)(240,0.5)(250,0.45)};
\addplot[forget plot, only marks, mark=asterisk, black, mark size=2.6pt, mark options={line width=0.5pt}] coordinates {(11.3,8.57)(10.9,7.9)(10.95,7.85)(11.2,7.57)(11.05,7.0)(12.0,6.57)(11.05,6.5)(11.65,6.2)(11.4,6.15)(10.6,5.7)(11.4,5.3)(11.0,5.3)};
\addplot[forget plot, only marks, mark=*, red, mark size=2.3pt] coordinates {(11.1,6.5)};
\addlegendimage{c1,line width=0.6pt}\addlegendentry{T7}
\addlegendimage{c3,line width=0.6pt}\addlegendentry{T29}
\addlegendimage{c2,line width=0.6pt}\addlegendentry{T8}
\addlegendimage{c4,line width=0.6pt}\addlegendentry{T31}
\addlegendimage{c3,line width=0.6pt}\addlegendentry{T18}
\addlegendimage{c5,line width=0.6pt}\addlegendentry{T32}
\addlegendimage{c4,line width=0.6pt}\addlegendentry{T19}
\addlegendimage{black,line width=1.7pt}\addlegendentry{Mean}
\addlegendimage{c5,line width=0.6pt}\addlegendentry{T20}
\addlegendimage{black,line width=1.7pt,dash pattern=on 5pt off 4pt}\addlegendentry{+Std}
\addlegendimage{c6,line width=0.6pt}\addlegendentry{T21}
\addlegendimage{black,line width=1.7pt,dash pattern=on 5pt off 4pt}\addlegendentry{-Std}
\addlegendimage{c7,line width=0.6pt}\addlegendentry{T22}
\addlegendimage{only marks,mark=asterisk,black,mark size=2.6pt,mark options={line width=0.5pt}}\addlegendentry{f\textsubscript{I}}
\addlegendimage{c1,line width=0.6pt}\addlegendentry{T25}
\addlegendimage{only marks,mark=*,red,mark size=2.3pt}\addlegendentry{f\textsubscript{M}}
\addlegendimage{c2,line width=0.6pt}\addlegendentry{T26}
\node[draw=black!60, line width=0.5pt, fill=white, anchor=north west, align=left,
  font=\fontsize{11.4}{13.6}\selectfont\bfseries, inner xsep=2.5pt, inner ysep=4pt]
  at (rel axis cs:0.0182,0.926) {Accepted time windows=12\\Mean frequency=11.17 Hz\\Mean amplitude=6.5\\Standard deviation=0.39};
\node[anchor=base west, font=\fontsize{14.6}{17}\selectfont\bfseries] at (rel axis cs:0.451,0.884) {Adjusted HVSR results};
\node[anchor=base east, font=\fontsize{30}{34}\selectfont\bfseries] at (rel axis cs:0.985,0.82) {b};
\end{axis}
\end{tikzpicture}
\end{document}
